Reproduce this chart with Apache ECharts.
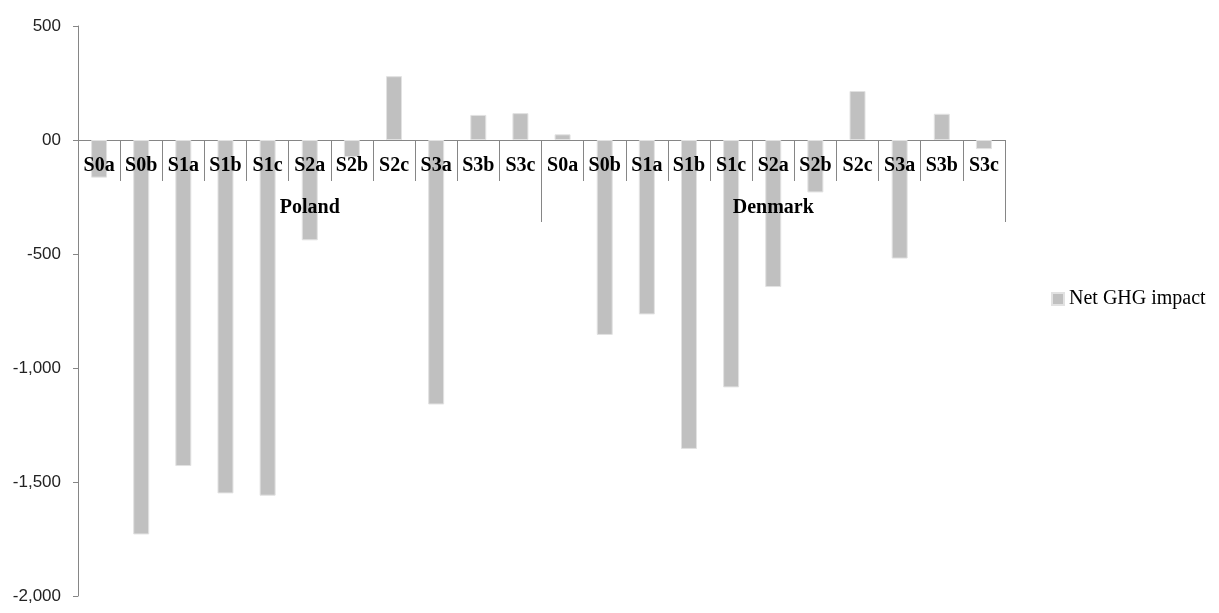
<!DOCTYPE html>
<html>
<head>
<meta charset="utf-8">
<script src="https://cdn.jsdelivr.net/npm/echarts@6/dist/echarts.min.js"></script>
<style>
html,body{margin:0;padding:0;background:#fff;}
#chart{width:1219px;height:613px;}
</style>
</head>
<body>
<div id="chart"></div>
<script>
// ---- data ----
var scenarios = ['S0a','S0b','S1a','S1b','S1c','S2a','S2b','S2c','S3a','S3b','S3c'];
var countries = ['Poland','Denmark'];
var polandValues = [-165, -1730, -1430, -1550, -1560, -440, -75, 280, -1160, 110, 118];
var denmarkValues = [25, -855, -765, -1355, -1085, -645, -230, 215, -520, 115, -40];
var seriesName = 'Net GHG impact';
var yTickValues = [-2000, -1500, -1000, -500, 0, 500];
var yTickLabels = ['-2,000', '-1,500', '-1,000', '-500', '00', '500'];

var categories = scenarios.concat(scenarios);
var values = polandValues.concat(denmarkValues);

var chart = echarts.init(document.getElementById('chart'));
var axisColor = '#868686';
var labelFont = {
  fontFamily: '"Liberation Serif", serif',
  fontWeight: 'bold',
  fontSize: 20,
  color: '#000'
};
var option = {
  animation: false,
  backgroundColor: '#ffffff',
  grid: [
    {left: 78, right: 214, top: 26, bottom: 17, containLabel: false, outerBoundsMode: 'none'},
    {left: 78, right: 214, top: 26, height: 114, containLabel: false, outerBoundsMode: 'none'}
  ],
  legend: {
    data: [seriesName],
    left: 1046,
    top: 284,
    icon: 'rect',
    itemWidth: 12,
    itemHeight: 12,
    itemGap: 5,
    textStyle: {fontFamily: '"Liberation Serif", serif', fontSize: 20, color: '#000'}
  },
  xAxis: [
    {
      type: 'category',
      gridIndex: 0,
      data: categories,
      boundaryGap: true,
      axisLine: {show: true, onZero: true, lineStyle: {color: axisColor, width: 1}},
      axisTick: {show: false},
      axisLabel: {show: false},
      splitLine: {show: false}
    },
    {
      type: 'category',
      gridIndex: 1,
      data: categories,
      position: 'bottom',
      boundaryGap: true,
      z: 10,
      axisLine: {show: false, onZero: false},
      axisTick: {show: true, interval: 0, length: 41, lineStyle: {color: axisColor}},
      axisLabel: Object.assign({interval: 0, margin: 16}, labelFont),
      splitLine: {show: false}
    },
    {
      type: 'category',
      gridIndex: 1,
      data: countries,
      position: 'bottom',
      boundaryGap: true,
      z: 10,
      axisLine: {show: false, onZero: false},
      axisTick: {show: true, interval: 0, length: 82, lineStyle: {color: axisColor}},
      axisLabel: Object.assign({interval: 0, margin: 58}, labelFont),
      splitLine: {show: false}
    }
  ],
  yAxis: [
    {
      type: 'value',
      gridIndex: 0,
      min: -2000,
      max: 500,
      interval: 500,
      axisLine: {show: true, lineStyle: {color: axisColor, width: 1}},
      axisTick: {show: true, length: 5, lineStyle: {color: axisColor}},
      splitLine: {show: false},
      axisLabel: {
        margin: 17,
        fontFamily: '"Liberation Sans", Arial, sans-serif',
        fontSize: 17,
        color: '#222',
        formatter: function (v) {
          var i = yTickValues.indexOf(v);
          return i >= 0 ? yTickLabels[i] : '';
        }
      }
    },
    {
      type: 'value',
      gridIndex: 1,
      show: false,
      min: 0,
      max: 1
    }
  ],
  series: [
    {
      name: seriesName,
      type: 'bar',
      xAxisIndex: 0,
      yAxisIndex: 0,
      data: values,
      barWidth: 16,
      z: 2,
      itemStyle: {color: '#c0c0c0', borderColor: '#e2e2e2', borderWidth: 1}
    }
  ]
};
chart.setOption(option);
</script>
</body>
</html>
